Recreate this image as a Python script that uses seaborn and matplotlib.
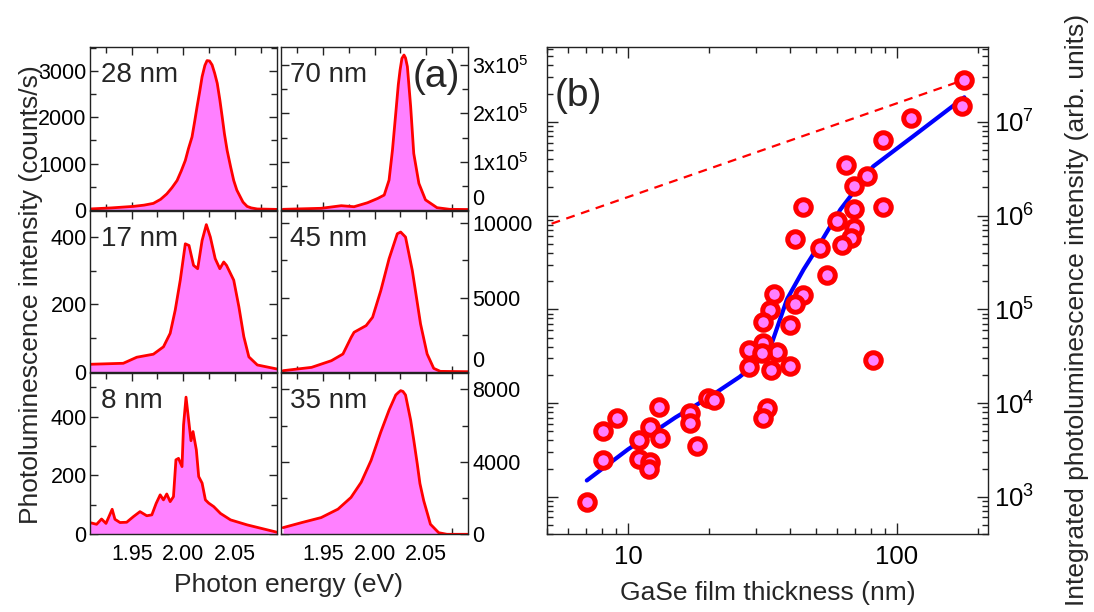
import numpy as np
import pandas as pd
import matplotlib
matplotlib.use("Agg")
import matplotlib.pyplot as plt
import matplotlib.ticker as mt
import seaborn as sns

# ---------------- data: PL spectra (photon energy eV, counts/s) ----------------
E_28 = [1.909, 1.930, 1.9516, 1.962, 1.971, 1.978, 1.984, 1.989, 1.994, 1.998,
        2.002, 2.005, 2.0085, 2.011, 2.0134, 2.016, 2.0183, 2.021, 2.0231, 2.0255,
        2.028, 2.0305, 2.033, 2.0355, 2.0378, 2.040, 2.0426, 2.046, 2.049, 2.052,
        2.0556, 2.058, 2.062, 2.066, 2.0719, 2.091]
I_28 = [22, 45, 78, 105, 143, 230, 347, 480, 636, 840,
        1069, 1320, 1575, 1900, 2226, 2560, 2876, 3120, 3223, 3215,
        3130, 2950, 2733, 2380, 2009, 1640, 1286, 930, 636, 430,
        273, 170, 78, 45, 22, 13]

E_70 = [1.911, 1.948, 1.9676, 1.980, 1.993, 2.003, 2.0093, 2.014, 2.0173, 2.0205,
        2.023, 2.0247, 2.0265, 2.0285, 2.030, 2.0318, 2.035, 2.038, 2.043, 2.0494,
        2.0606, 2.073, 2.091]
I_70 = [1.4e3, 3.5e3, 8.9e3, 6.8e3, 1.5e4, 2.4e4, 3.1e4, 6.2e4, 1.24e5, 2.0e5,
        2.6e5, 2.9e5, 3.14e5, 3.21e5, 3.15e5, 2.97e5, 2.14e5, 1.17e5, 5.5e4, 2.1e4,
        4.8e3, 1.4e3, 1.0e3]

E_17 = [1.909, 1.9418, 1.9549, 1.971, 1.9808, 1.9873, 1.9922, 1.9971, 2.002, 2.0056,
        2.010, 2.014, 2.0183, 2.0224, 2.0263, 2.031, 2.0355, 2.0393, 2.042, 2.049,
        2.054, 2.0588, 2.0637, 2.0719, 2.091]
I_17 = [22, 25, 43, 52, 74, 114, 183, 272, 380, 375,
        316, 306, 390, 437, 400, 336, 306, 326, 316, 272,
        193, 104, 44, 20, 8]

E_45 = [1.911, 1.9387, 1.958, 1.9692, 1.9772, 1.980, 1.9917, 1.998, 2.006, 2.014,
        2.022, 2.0253, 2.030, 2.0366, 2.0446, 2.051, 2.0574, 2.0638, 2.091]
I_45 = [68, 293, 743, 1194, 2320, 2658, 3108, 3671, 5473, 7613,
        9302, 9415, 9077, 6825, 3220, 1194, 225, 23, 0]

E_8 = [1.909, 1.9159, 1.9207, 1.925, 1.931, 1.9337, 1.9386, 1.9451, 1.9516, 1.958,
       1.9646, 1.9695, 1.9737, 1.9776, 1.9808, 1.984, 1.9873, 1.9905, 1.9929, 1.9954,
       1.9988, 2.0003, 2.0027, 2.0052, 2.0075, 2.0095, 2.0127, 2.015, 2.0183, 2.0215,
       2.0247, 2.0296, 2.0361, 2.0459, 2.062, 2.0817, 2.091]
I_8 = [40, 34, 52, 37, 85, 51, 40, 41, 60, 77,
       63, 66, 105, 134, 117, 137, 111, 128, 253, 258,
       230, 372, 466, 389, 318, 349, 287, 196, 174, 117,
       106, 94, 71, 49, 32, 15, 7]

E_35 = [1.911, 1.929, 1.948, 1.9644, 1.977, 1.9869, 1.9965, 2.006, 2.014, 2.0205,
        2.0232, 2.0253, 2.0275, 2.030, 2.035, 2.038, 2.0414, 2.044, 2.0477, 2.0515,
        2.0542, 2.0622, 2.0702, 2.091]
I_35 = [367, 644, 922, 1389, 2033, 2867, 4072, 5645, 6850, 7684,
        7830, 7923, 7880, 7684, 6295, 5200, 3889, 2800, 1850, 1100,
        556, 89, 0, 0]

# ---------------- data: integrated PL vs thickness ----------------
thick = [177, 174, 113, 89, 64.6, 77.4, 69.5, 44.9, 89, 69.5,
         59.6, 69.5, 67.6, 62.7, 41.9, 51.9, 55, 34.9, 44.9, 41.7,
         33.7, 31.9, 40.1, 31.9, 28.1, 35.9, 31.5, 28.1, 40.1, 34.0,
         81.5, 19.8, 20.8, 33.0, 31.9, 13.0, 17.0, 17.0, 18.1, 9.08,
         8.06, 8.06, 12.1, 11.0, 13.1, 11.0, 12.1, 12.0, 7.03]
intens = [2.8e7, 1.48e7, 1.1e7, 6.4e6, 3.46e6, 2.67e6, 2.05e6, 1.24e6, 1.24e6, 1.18e6,
          8.7e5, 7.4e5, 5.8e5, 4.8e5, 5.6e5, 4.5e5, 2.34e5, 1.47e5, 1.42e5, 1.13e5,
          9.8e4, 7.4e4, 6.8e4, 4.4e4, 3.66e4, 3.5e4, 3.4e4, 2.4e4, 2.5e4, 2.26e4,
          2.87e4, 1.12e4, 1.08e4, 8.8e3, 6.9e3, 9.1e3, 7.8e3, 6.1e3, 3.5e3, 6.9e3,
          5.0e3, 2.48e3, 5.6e3, 4.0e3, 4.2e3, 2.5e3, 2.34e3, 2.0e3, 870]

fit_x = [7.03, 10.0, 15.0, 20.0, 26.0, 32.0, 34.3, 39.0, 45.0, 51.9, 61.6, 81.6, 114.7, 178]
fit_y = [1.49e3, 3.2e3, 7.0e3, 1.15e4, 1.9e4, 3.1e4, 4.4e4, 1.28e5, 2.67e5, 5.1e5, 1.16e6, 3.35e6, 7.0e6, 1.83e7]

lin_x = [5.2, 177]
lin_y = [8.2e5, 2.8e7]

# ---------------- styling ----------------
sns.set_theme(style="ticks")
plt.rcParams["font.family"] = ["Liberation Sans", "DejaVu Sans"]
plt.rcParams["mathtext.fontset"] = "custom"
plt.rcParams["mathtext.rm"] = "Liberation Sans"
plt.rcParams["mathtext.it"] = "Liberation Sans:italic"
plt.rcParams["mathtext.bf"] = "Liberation Sans:bold"
plt.rcParams["axes.edgecolor"] = "#222222"
plt.rcParams["axes.linewidth"] = 1.0

W, H = 1094, 612
fig = plt.figure(figsize=(W / 100, H / 100), dpi=100)

FILL = "#FF80FF"
LINE = "#FF0000"
TICK_FS = 15.5

def box(x0, y0, x1, y1):
    return [x0 / W, 1 - y1 / H, (x1 - x0) / W, (y1 - y0) / H]

colx = [(89.5, 277.0), (281.0, 468.3)]
rowy = [(47.3, 210.0), (211.5, 371.7), (373.3, 534.3)]

panels = [
    # (row, col, E, I, label, ylim, major, minor, sci)
    (0, 0, E_28, I_28, "28 nm", 3510, 1000, 500, False),
    (0, 1, E_70, I_70, "70 nm", 3.37e5, 1e5, 0.5e5, True),
    (1, 0, E_17, I_17, "17 nm", 476, 200, 100, False),
    (1, 1, E_45, I_45, "45 nm", 10800, 5000, 2500, False),
    (2, 0, E_8, I_8, "8 nm", 547, 200, 100, False),
    (2, 1, E_35, I_35, "35 nm", 8880, 4000, 2000, False),
]

for r, c, E, I, lab, ytop, maj, mnr, sci in panels:
    ax = fig.add_axes(box(colx[c][0], rowy[r][0], colx[c][1], rowy[r][1]))
    df = pd.DataFrame({"E": E, "I": I})
    ax.fill_between(df["E"], df["I"], 0, color=FILL, linewidth=0)
    sns.lineplot(data=df, x="E", y="I", ax=ax, color=LINE, lw=2.0, sort=False)
    ax.set_xlim(1.909, 2.091)
    ax.set_ylim(0, ytop)
    ax.set_xlabel("")
    ax.set_ylabel("")
    ax.xaxis.set_major_locator(mt.FixedLocator([1.95, 2.00, 2.05]))
    ax.xaxis.set_major_formatter(mt.FixedFormatter(["1.95", "2.00", "2.05"]))
    ax.xaxis.set_minor_locator(mt.FixedLocator([1.925, 1.975, 2.025, 2.075]))
    ax.yaxis.set_major_locator(mt.MultipleLocator(maj))
    ax.yaxis.set_minor_locator(mt.MultipleLocator(mnr))
    if sci:
        ax.yaxis.set_major_formatter(mt.FuncFormatter(
            lambda v, p: "0" if v == 0 else "%dx10$^{5}$" % round(v / 1e5)))
    else:
        ax.yaxis.set_major_formatter(mt.FuncFormatter(lambda v, p: "%d" % round(v)))
    ax.tick_params(which="both", direction="in", top=True, bottom=True,
                   left=True, right=True, labelsize=TICK_FS, width=1.0,
                   colors="#222222", labelcolor="black")
    ax.tick_params(which="major", length=6)
    ax.tick_params(which="minor", length=4)
    ax.tick_params(axis="x", labelbottom=(r == 2), pad=7)
    if c == 0:
        ax.tick_params(axis="y", labelleft=True, labelright=False, pad=2)
    else:
        ax.tick_params(axis="y", labelleft=False, labelright=True, pad=3)
    ax.text(0.06 if c == 0 else 0.05, 0.83, lab, transform=ax.transAxes,
            fontsize=20, ha="left", va="center")
    if c == 1 and r < 2:
        fig.canvas.draw()
        for t in ax.yaxis.get_major_ticks():
            if abs(t.get_loc()) < 1e-9:
                t.label2.set_va("bottom")
    if r == 0 and c == 1:
        ax.text(0.83, 0.82, "(a)", transform=ax.transAxes, fontsize=28,
                ha="center", va="center")

fig.text(289 / W, 1 - 585 / H, "Photon energy (eV)", fontsize=19,
         ha="center", va="center")
fig.text(31 / W, 1 - 295 / H, "Photoluminescence intensity (counts/s)",
         fontsize=19, ha="center", va="center", rotation=90)

# ---------------- panel (b) ----------------
axb = fig.add_axes(box(547, 47, 988, 534))
axb.set_xscale("log")
axb.set_yscale("log")
sns.lineplot(x=lin_x, y=lin_y, ax=axb, color=LINE, lw=1.6, linestyle=(0, (4, 3)))
sns.lineplot(x=fit_x, y=fit_y, ax=axb, color="#0000FF", lw=3.0, sort=False)
sns.scatterplot(x=thick, y=intens, ax=axb, s=125, color=FILL, edgecolor=LINE,
                linewidth=3.6, zorder=5)
axb.set_xlim(5, 218)
axb.set_ylim(400, 6.3e7)
axb.xaxis.set_major_locator(mt.FixedLocator([10, 100]))
axb.xaxis.set_major_formatter(mt.FixedFormatter(["10", "100"]))
axb.xaxis.set_minor_locator(mt.LogLocator(base=10, subs=np.arange(2, 10), numticks=20))
axb.xaxis.set_minor_formatter(mt.NullFormatter())
axb.yaxis.set_major_locator(mt.LogLocator(base=10, numticks=20))
axb.yaxis.set_major_formatter(mt.LogFormatterSciNotation())
axb.yaxis.set_minor_locator(mt.LogLocator(base=10, subs=np.arange(2, 10), numticks=20))
axb.yaxis.set_minor_formatter(mt.NullFormatter())
axb.tick_params(which="both", direction="in", top=True, bottom=True, left=True,
                right=True, labelleft=False, labelright=True, labelsize=TICK_FS + 3,
                width=1.0, colors="#222222", labelcolor="black")
axb.tick_params(which="major", length=8)
axb.tick_params(which="minor", length=4)
axb.tick_params(axis="x", pad=8)
axb.tick_params(axis="y", pad=4)
axb.set_xlabel("")
axb.set_ylabel("")
axb.text(0.07, 0.9, "(b)", transform=axb.transAxes, fontsize=28,
         ha="center", va="center")
fig.text(768 / W, 1 - 593 / H, "GaSe film thickness (nm)", fontsize=19,
         ha="center", va="center")
fig.text(1077 / W, 1 - 310 / H, "Integrated photoluminescence intensity (arb. units)",
         fontsize=19, ha="center", va="center", rotation=90)

fig.savefig("out.png", dpi=100)
